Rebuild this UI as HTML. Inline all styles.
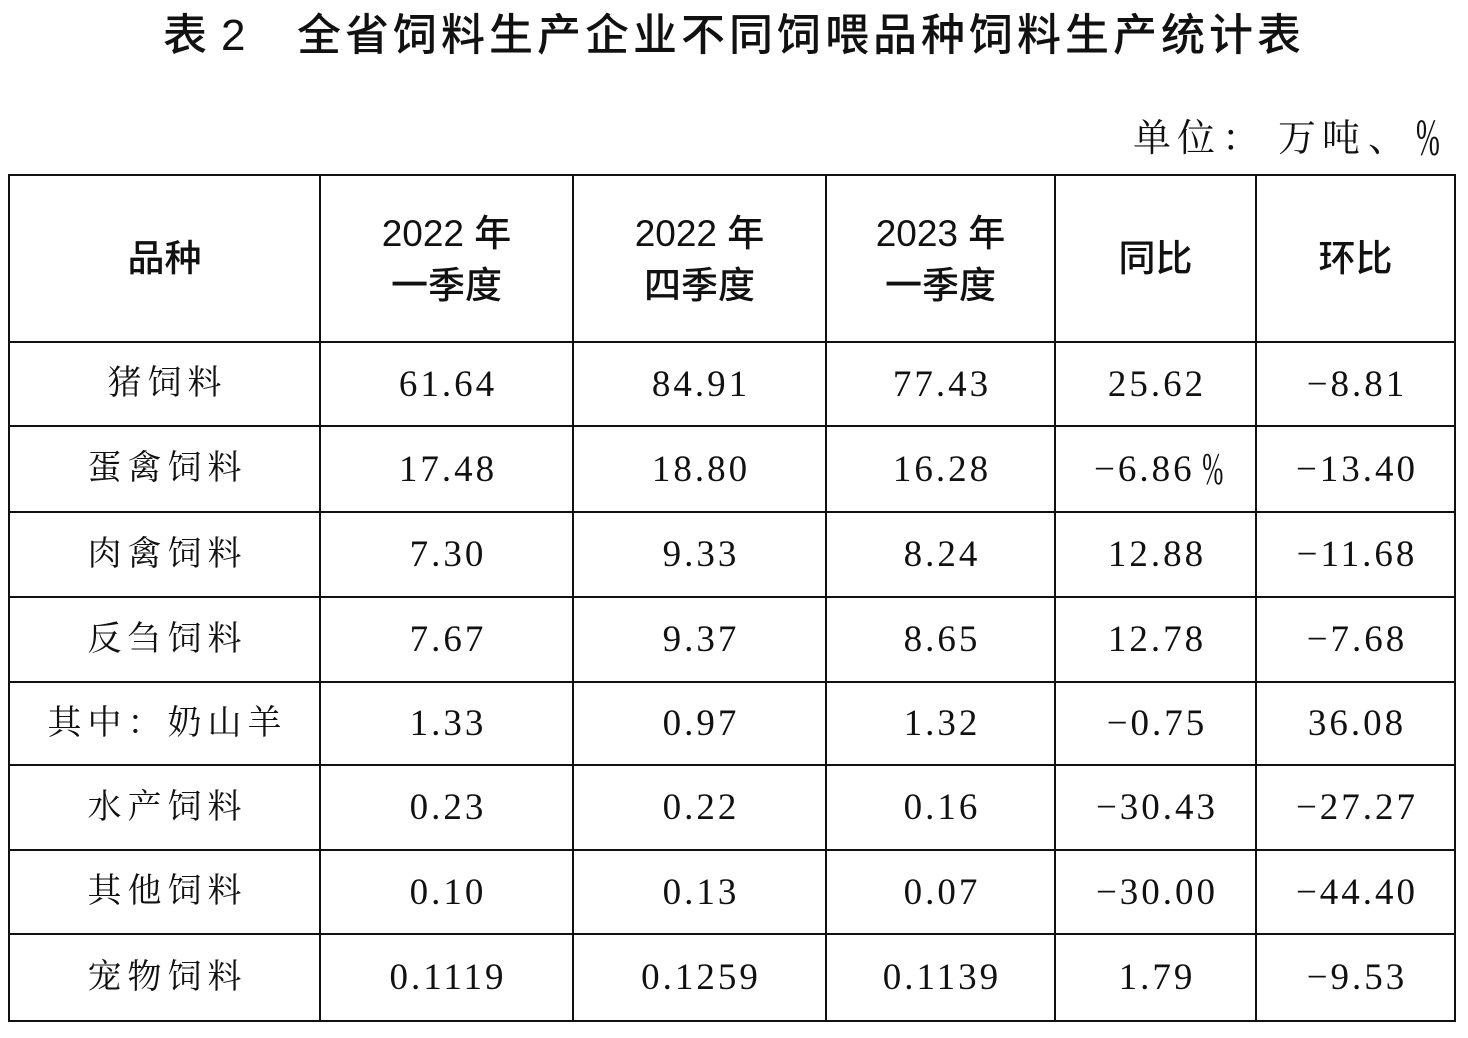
<!DOCTYPE html>
<html>
<head>
<meta charset="utf-8">
<style>
html,body{margin:0;padding:0;background:#fff;}
body{width:1468px;height:1038px;position:relative;overflow:hidden;color:#111;}
.t{position:absolute;display:flex;align-items:center;justify-content:center;line-height:1;white-space:nowrap;}
.hd{font-family:"Liberation Sans","Noto Sans CJK SC",sans-serif;font-size:37px;font-weight:500;}
.lb{font-family:"Liberation Serif","Noto Serif CJK SC",serif;font-size:34px;letter-spacing:6px;padding-left:6px;box-sizing:border-box;}
.nm{font-family:"Liberation Serif","Noto Serif CJK SC",serif;font-size:37px;letter-spacing:3px;padding-left:3px;box-sizing:border-box;}
.u{position:absolute;font-family:"Liberation Serif","Noto Serif CJK SC",serif;font-size:38px;line-height:1;top:120px;}
</style>
</head>
<body>
<div style="position:absolute;left:163px;top:14px;font-family:'Liberation Sans','Noto Sans CJK SC',sans-serif;font-size:44px;font-weight:500;line-height:1;white-space:nowrap;">
<span style="position:absolute;left:0;">表</span><span style="position:absolute;left:58px;">2</span><span style="position:absolute;left:134px;letter-spacing:4px;">全省饲料生产企业不同饲喂品种饲料生产统计表</span>
</div>

<span class="u" style="left:1133px;">单</span>
<span class="u" style="left:1177px;">位</span>
<span class="u" style="left:1222px;">：</span>
<span class="u" style="left:1278px;">万</span>
<span class="u" style="left:1322px;">吨</span>
<span class="u" style="left:1368px;">、</span>
<span class="u" style="left:1416px;top:113px;font-size:52px;display:inline-block;transform:scaleX(0.55);transform-origin:left center;">%</span>

<svg width="1468" height="1038" style="position:absolute;left:0;top:0;" xmlns="http://www.w3.org/2000/svg">
<g stroke="#111" stroke-width="2" fill="none">
<rect x="9" y="175" width="1446" height="846"/>
<line x1="320" y1="175" x2="320" y2="1021"/>
<line x1="573" y1="175" x2="573" y2="1021"/>
<line x1="826" y1="175" x2="826" y2="1021"/>
<line x1="1055" y1="175" x2="1055" y2="1021"/>
<line x1="1256" y1="175" x2="1256" y2="1021"/>
<line x1="9" y1="342" x2="1455" y2="342"/>
<line x1="9" y1="426" x2="1455" y2="426"/>
<line x1="9" y1="512" x2="1455" y2="512"/>
<line x1="9" y1="597" x2="1455" y2="597"/>
<line x1="9" y1="682" x2="1455" y2="682"/>
<line x1="9" y1="765" x2="1455" y2="765"/>
<line x1="9" y1="850" x2="1455" y2="850"/>
<line x1="9" y1="934" x2="1455" y2="934"/>
</g>
</svg>

<!-- header -->
<div class="t hd" style="left:9px;width:311px;top:238px;height:40px;">品种</div>
<div class="t hd" style="left:320px;width:253px;top:213px;height:40px;">2022 年</div>
<div class="t hd" style="left:320px;width:253px;top:265px;height:40px;">一季度</div>
<div class="t hd" style="left:573px;width:253px;top:213px;height:40px;">2022 年</div>
<div class="t hd" style="left:573px;width:253px;top:265px;height:40px;">四季度</div>
<div class="t hd" style="left:826px;width:229px;top:213px;height:40px;">2023 年</div>
<div class="t hd" style="left:826px;width:229px;top:265px;height:40px;">一季度</div>
<div class="t hd" style="left:1055px;width:201px;top:238px;height:40px;">同比</div>
<div class="t hd" style="left:1256px;width:199px;top:238px;height:40px;">环比</div>

<!-- row 1 -->
<div class="t lb" style="left:9px;width:311px;top:342px;height:84px;">猪饲料</div>
<div class="t nm" style="left:320px;width:253px;top:342px;height:84px;">61.64</div>
<div class="t nm" style="left:573px;width:253px;top:342px;height:84px;">84.91</div>
<div class="t nm" style="left:826px;width:229px;top:342px;height:84px;">77.43</div>
<div class="t nm" style="left:1055px;width:201px;top:342px;height:84px;">25.62</div>
<div class="t nm" style="left:1256px;width:199px;top:342px;height:84px;">−8.81</div>
<!-- row 2 -->
<div class="t lb" style="left:9px;width:311px;top:426px;height:86px;">蛋禽饲料</div>
<div class="t nm" style="left:320px;width:253px;top:426px;height:86px;">17.48</div>
<div class="t nm" style="left:573px;width:253px;top:426px;height:86px;">18.80</div>
<div class="t nm" style="left:826px;width:229px;top:426px;height:86px;">16.28</div>
<div class="t nm" style="left:1055px;width:201px;top:426px;height:86px;">−6.86<span style="display:inline-block;font-size:46px;transform:scaleX(0.55);margin-right:-14px;margin-left:-2px;">%</span></div>
<div class="t nm" style="left:1256px;width:199px;top:426px;height:86px;">−13.40</div>
<!-- row 3 -->
<div class="t lb" style="left:9px;width:311px;top:512px;height:85px;">肉禽饲料</div>
<div class="t nm" style="left:320px;width:253px;top:512px;height:85px;">7.30</div>
<div class="t nm" style="left:573px;width:253px;top:512px;height:85px;">9.33</div>
<div class="t nm" style="left:826px;width:229px;top:512px;height:85px;">8.24</div>
<div class="t nm" style="left:1055px;width:201px;top:512px;height:85px;">12.88</div>
<div class="t nm" style="left:1256px;width:199px;top:512px;height:85px;">−11.68</div>
<!-- row 4 -->
<div class="t lb" style="left:9px;width:311px;top:597px;height:85px;">反刍饲料</div>
<div class="t nm" style="left:320px;width:253px;top:597px;height:85px;">7.67</div>
<div class="t nm" style="left:573px;width:253px;top:597px;height:85px;">9.37</div>
<div class="t nm" style="left:826px;width:229px;top:597px;height:85px;">8.65</div>
<div class="t nm" style="left:1055px;width:201px;top:597px;height:85px;">12.78</div>
<div class="t nm" style="left:1256px;width:199px;top:597px;height:85px;">−7.68</div>
<!-- row 5 -->
<div class="t lb" style="left:9px;width:311px;top:682px;height:83px;">其中：奶山羊</div>
<div class="t nm" style="left:320px;width:253px;top:682px;height:83px;">1.33</div>
<div class="t nm" style="left:573px;width:253px;top:682px;height:83px;">0.97</div>
<div class="t nm" style="left:826px;width:229px;top:682px;height:83px;">1.32</div>
<div class="t nm" style="left:1055px;width:201px;top:682px;height:83px;">−0.75</div>
<div class="t nm" style="left:1256px;width:199px;top:682px;height:83px;">36.08</div>
<!-- row 6 -->
<div class="t lb" style="left:9px;width:311px;top:765px;height:85px;">水产饲料</div>
<div class="t nm" style="left:320px;width:253px;top:765px;height:85px;">0.23</div>
<div class="t nm" style="left:573px;width:253px;top:765px;height:85px;">0.22</div>
<div class="t nm" style="left:826px;width:229px;top:765px;height:85px;">0.16</div>
<div class="t nm" style="left:1055px;width:201px;top:765px;height:85px;">−30.43</div>
<div class="t nm" style="left:1256px;width:199px;top:765px;height:85px;">−27.27</div>
<!-- row 7 -->
<div class="t lb" style="left:9px;width:311px;top:850px;height:84px;">其他饲料</div>
<div class="t nm" style="left:320px;width:253px;top:850px;height:84px;">0.10</div>
<div class="t nm" style="left:573px;width:253px;top:850px;height:84px;">0.13</div>
<div class="t nm" style="left:826px;width:229px;top:850px;height:84px;">0.07</div>
<div class="t nm" style="left:1055px;width:201px;top:850px;height:84px;">−30.00</div>
<div class="t nm" style="left:1256px;width:199px;top:850px;height:84px;">−44.40</div>
<!-- row 8 -->
<div class="t lb" style="left:9px;width:311px;top:934px;height:87px;">宠物饲料</div>
<div class="t nm" style="left:320px;width:253px;top:934px;height:87px;">0.1119</div>
<div class="t nm" style="left:573px;width:253px;top:934px;height:87px;">0.1259</div>
<div class="t nm" style="left:826px;width:229px;top:934px;height:87px;">0.1139</div>
<div class="t nm" style="left:1055px;width:201px;top:934px;height:87px;">1.79</div>
<div class="t nm" style="left:1256px;width:199px;top:934px;height:87px;">−9.53</div>
</body>
</html>
